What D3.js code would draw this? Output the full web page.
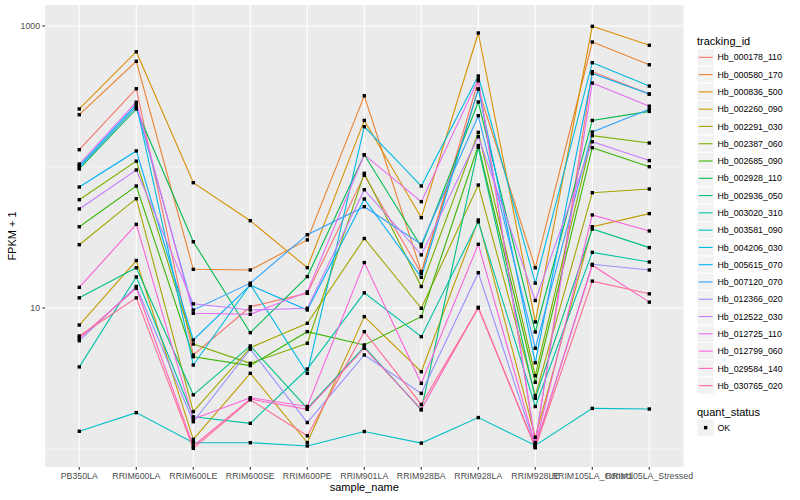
<!DOCTYPE html>
<html><head><meta charset="utf-8">
<script src="https://cdn.jsdelivr.net/npm/d3@7"></script>
<style>body{margin:0;background:#fff} svg{display:block} text{font-family:"Liberation Sans",Arial,Helvetica,sans-serif}</style>
</head><body><svg id="chart" width="800" height="500"></svg>
<script>
// ---- data (FPKM + 1) ----
const sampleNames = ["PB350LA","RRIM600LA","RRIM600LE","RRIM600SE","RRIM600PE","RRIM901LA","RRIM928BA","RRIM928LA","RRIM928LE","RRIM105LA_Control","RRIM105LA_Stressed"];
const trackingIds = ["Hb_000178_110","Hb_000580_170","Hb_000836_500","Hb_002260_090","Hb_002291_030","Hb_002387_060","Hb_002685_090","Hb_002928_110","Hb_002936_050","Hb_003020_310","Hb_003581_090","Hb_004206_030","Hb_005615_070","Hb_007120_070","Hb_012366_020","Hb_012522_030","Hb_012725_110","Hb_012799_060","Hb_029584_140","Hb_030765_020"];
const hb000178_110 = [132.7, 359, 4.64, 10.2, 12.7, 87.3, 17.6, 409, 1.085, 474, 329];
const hb000580_170 = [235, 562, 18.8, 18.6, 30.4, 320, 18.1, 357, 19.3, 770, 531];
const hb000836_500 = [258, 657, 77.4, 41.6, 19.3, 214, 43.7, 892, 7.96, 995, 730];
const hb002260_090 = [7.57, 21.7, 1.17, 3.44, 1.11, 8.68, 3.53, 42.1, 1.21, 37.7, 46.7];
const hb002291_030 = [28.1, 59.6, 1.84, 5.23, 7.79, 31.1, 9.95, 74.5, 2.39, 65.7, 69.8];
const hb002387_060 = [58.6, 110, 5.55, 4.05, 5.62, 90.2, 14.2, 176, 3.31, 167, 148];
const hb002685_090 = [37.7, 73.3, 4.51, 3.90, 6.79, 5.47, 8.68, 142, 2.97, 137, 100.5];
const hb002928_110 = [96.8, 258, 29.5, 6.68, 16.7, 122, 27.2, 289, 6.76, 214, 248];
const hb002936_050 = [11.8, 19.3, 2.42, 5.38, 1.94, 5.31, 1.89, 138, 2.29, 36.3, 26.8];
const hb003020_310 = [3.82, 16.6, 1.69, 1.52, 3.69, 12.8, 6.26, 40.9, 2.0, 24.8, 21.2];
const hb003581_090 = [1.335, 1.81, 1.108, 1.108, 1.05, 1.33, 1.10, 1.67, 1.06, 1.94, 1.92];
const hb004206_030 = [102, 278, 3.94, 14.7, 3.44, 193, 73.3, 442, 15.0, 549, 375];
const hb005615_070 = [72.1, 130, 5.93, 14.5, 9.68, 59.3, 16.5, 357, 4.09, 460, 329];
const hb007120_070 = [99.5, 269, 9.68, 15.0, 33.1, 52.3, 28.3, 231, 5.18, 177, 257];
const hb012366_020 = [5.86, 14.2, 1.56, 5.10, 1.54, 4.64, 2.48, 17.8, 1.04, 20.4, 18.6];
const hb012522_030 = [50.4, 95.2, 10.7, 9.68, 9.95, 69.0, 23.8, 164, 11.3, 151, 111];
const hb012725_110 = [105, 288, 9.17, 9.02, 13.0, 122, 56.8, 419, 1.11, 394, 270];
const hb012799_060 = [14.0, 39.2, 1.63, 2.31, 2.0, 21.0, 2.92, 28.3, 1.06, 45.7, 35.2];
const hb029584_140 = [6.10, 13.8, 1.05, 2.26, 1.91, 5.18, 1.91, 10.1, 1.03, 20.1, 11.0];
const hb030765_020 = [6.33, 11.8, 1.01, 2.23, 1.24, 6.79, 2.07, 10.0, 1.02, 15.5, 12.6];
const seriesValues = [hb000178_110, hb000580_170, hb000836_500, hb002260_090, hb002291_030, hb002387_060, hb002685_090, hb002928_110, hb002936_050, hb003020_310, hb003581_090, hb004206_030, hb005615_070, hb007120_070, hb012366_020, hb012522_030, hb012725_110, hb012799_060, hb029584_140, hb030765_020];
const yMajorTicks = [10, 1000];
const yMinorTicks = [1, 100];
const yTickLabels = ["10", "1000"];
const quantStatus = ["OK"];

// ---- styles ----
const palette = ["#F8766D","#EA8331","#D89000","#C09B00","#A3A500","#7CAE00","#39B600","#00BB4E","#00BF7D","#00C1A3","#00BFC4","#00BAE0","#00B0F6","#35A2FF","#9590FF","#C77CFF","#E76BF3","#FA62DB","#FF62BC","#FF6C91"];
const panel = {left: 45.1, right: 683.5, top: 5, bottom: 467};

const svg = d3.select("#chart");
svg.append("rect").attr("width", 800).attr("height", 500).attr("fill", "#fff");

const x = d3.scalePoint().domain(sampleNames).range([panel.left, panel.right]).padding(0.6);
const y = d3.scaleLog().domain([Math.pow(10, -0.128), Math.pow(10, 3.149)]).range([panel.bottom, panel.top]);
const color = d3.scaleOrdinal().domain(trackingIds).range(palette);

svg.append("rect").attr("x", panel.left).attr("y", panel.top)
  .attr("width", panel.right - panel.left).attr("height", panel.bottom - panel.top).attr("fill", "#EBEBEB");

const grid = svg.append("g");
grid.selectAll(".minor").data(yMinorTicks).join("line")
  .attr("x1", panel.left).attr("x2", panel.right).attr("y1", d => y(d)).attr("y2", d => y(d))
  .attr("stroke", "#fff").attr("stroke-width", 0.55);
grid.selectAll(".major").data(yMajorTicks).join("line")
  .attr("x1", panel.left).attr("x2", panel.right).attr("y1", d => y(d)).attr("y2", d => y(d))
  .attr("stroke", "#fff").attr("stroke-width", 1.1);
grid.selectAll(".xg").data(sampleNames).join("line")
  .attr("x1", d => x(d)).attr("x2", d => x(d)).attr("y1", panel.top).attr("y2", panel.bottom)
  .attr("stroke", "#fff").attr("stroke-width", 1.1);

const line = d3.line().x((d, i) => x(sampleNames[i])).y(d => y(d));
svg.append("g").selectAll("path").data(seriesValues).join("path")
  .attr("d", d => line(d)).attr("fill", "none")
  .attr("stroke", (d, i) => color(trackingIds[i])).attr("stroke-width", 1.1);

const pts = [];
seriesValues.forEach((vals, si) => vals.forEach((v, i) => pts.push({s: sampleNames[i], v})));
svg.append("g").selectAll("rect").data(pts).join("rect")
  .attr("x", d => x(d.s) - 1.7).attr("y", d => y(d.v) - 1.7)
  .attr("width", 3.4).attr("height", 3.4).attr("fill", "#000");

// axes
const ax = svg.append("g");
ax.selectAll(".yt").data(yMajorTicks).join("line")
  .attr("x1", panel.left - 2.75).attr("x2", panel.left).attr("y1", d => y(d)).attr("y2", d => y(d))
  .attr("stroke", "#333").attr("stroke-width", 1.1);
ax.selectAll(".yl").data(yMajorTicks).join("text")
  .attr("x", panel.left - 5).attr("y", d => y(d) + 3.1).attr("text-anchor", "end")
  .attr("font-size", 8.8).attr("fill", "#4D4D4D").text((d, i) => yTickLabels[i]);
ax.selectAll(".xt").data(sampleNames).join("line")
  .attr("x1", d => x(d)).attr("x2", d => x(d)).attr("y1", panel.bottom).attr("y2", panel.bottom + 2.75)
  .attr("stroke", "#333").attr("stroke-width", 1.1);
ax.selectAll(".xl").data(sampleNames).join("text")
  .attr("x", d => x(d)).attr("y", panel.bottom + 11.5).attr("text-anchor", "middle")
  .attr("font-size", 8.8).attr("fill", "#4D4D4D").text(d => d);
svg.append("text").attr("x", (panel.left + panel.right) / 2).attr("y", 491)
  .attr("text-anchor", "middle").attr("font-size", 11).attr("fill", "#000").text("sample_name");
svg.append("text").attr("transform", `translate(15.5,${(panel.top + panel.bottom) / 2}) rotate(-90)`)
  .attr("text-anchor", "middle").attr("font-size", 11).attr("fill", "#000").text("FPKM + 1");

// legend
const lg = svg.append("g");
lg.append("text").attr("x", 697).attr("y", 44.5).attr("font-size", 11).text("tracking_id");
const keyTop = 48.7, keyStep = 17.28;
const items = lg.selectAll(".item").data(trackingIds).join("g")
  .attr("transform", (d, i) => `translate(697,${keyTop + i * keyStep})`);
items.append("rect").attr("width", 17.28).attr("height", 17.28).attr("fill", "#F2F2F2").attr("stroke", "#fff").attr("stroke-width", 1);
items.append("line").attr("x1", 1.7).attr("x2", 15.6).attr("y1", 8.64).attr("y2", 8.64)
  .attr("stroke", d => color(d)).attr("stroke-width", 1.1);
items.append("text").attr("x", 20.5).attr("y", 11.8).attr("font-size", 8.8).attr("fill", "#000").text(d => d);

lg.append("text").attr("x", 697).attr("y", 415.5).attr("font-size", 11).text("quant_status");
const q = lg.selectAll(".q").data(quantStatus).join("g").attr("transform", (d, i) => `translate(697,${419 + i * keyStep})`);
q.append("rect").attr("width", 17.28).attr("height", 17.28).attr("fill", "#F2F2F2").attr("stroke", "#fff").attr("stroke-width", 1);
q.append("rect").attr("x", 8.64 - 1.7).attr("y", 8.64 - 1.7).attr("width", 3.4).attr("height", 3.4).attr("fill", "#000");
q.append("text").attr("x", 20.5).attr("y", 11.8).attr("font-size", 8.8).attr("fill", "#000").text(d => d);
</script></body></html>
